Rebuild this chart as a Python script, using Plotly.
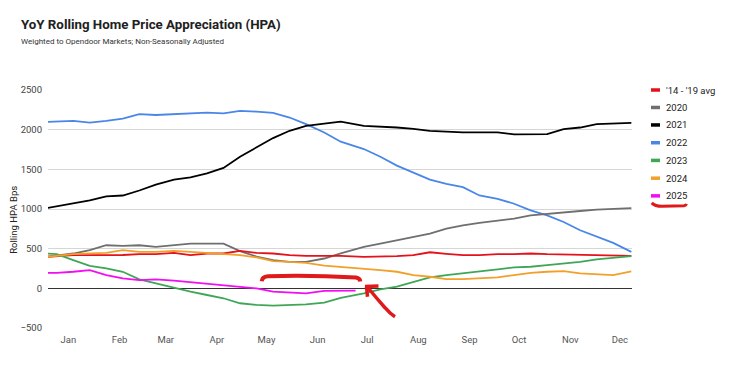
import plotly.graph_objects as go

# ---------------- data (day-of-year sampling, values in bps) ----------------
days = [2, 8, 18, 28, 38, 48, 58, 68, 79, 89, 99, 109, 119, 129, 139, 149, 159, 170, 180,
        194, 204, 214, 224, 234, 244, 254, 264, 275, 285, 295, 305, 315, 325, 335, 345, 356]

avg_14_19 = [397, 405, 418, 418, 418, 420, 430, 430, 447, 418, 439, 439, 472, 447, 439, 418, 410, 410, 410,
             397, 400, 405, 418, 455, 435, 418, 418, 430, 430, 439, 430, 425, 425, 418, 415, 410]
hpa_2020 = [397, 410, 439, 481, 543, 535, 543, 522, 543, 564, 564, 564, 470, 400, 355, 334, 334, 376, 440,
            522, 564, 606, 640, 690, 752, 794, 825, 857, 878, 920, 940, 961, 975, 991, 1003, 1012]
hpa_2021 = [1012, 1035, 1066, 1108, 1158, 1170, 1233, 1308, 1371, 1400, 1450, 1517, 1659, 1777, 1894, 1986, 2048, 2077, 2100,
            2048, 2040, 2027, 2010, 1986, 1975, 1965, 1965, 1965, 1940, 1944, 1944, 2006, 2027, 2069, 2075, 2086]
hpa_2022 = [2098, 2105, 2110, 2090, 2110, 2140, 2195, 2185, 2195, 2200, 2215, 2205, 2236, 2228, 2211, 2153, 2069, 1965, 1848,
            1756, 1659, 1547, 1463, 1371, 1317, 1275, 1170, 1129, 1066, 982, 920, 836, 732, 656, 573, 460]
hpa_2023 = [439, 430, 355, 284, 251, 209, 113, 63, 0, -42, -84, -125, -188, -209, -217, -209, -201, -180, -120,
            -63, -13, 21, 84, 138, 167, 188, 209, 238, 263, 272, 293, 313, 334, 364, 385, 405]
hpa_2024 = [397, 410, 430, 440, 447, 481, 460, 460, 472, 460, 447, 439, 418, 389, 343, 334, 322, 285, 270,
            251, 230, 209, 167, 146, 117, 117, 125, 138, 167, 196, 209, 217, 188, 180, 167, 215]

days_2025 = [2, 8, 18, 28, 38, 48, 58, 68, 79, 89, 99, 109, 119, 129, 139, 149, 159, 170, 180, 189]
hpa_2025 = [196, 196, 209, 230, 167, 125, 104, 113, 96, 75, 63, 42, 13, 0, -42, -54, -63, -33, -29, -29]

month_labels = ["Jan", "Feb", "Mar", "Apr", "May", "Jun", "Jul", "Aug", "Sep", "Oct", "Nov", "Dec"]
month_mid_days = [15, 46, 74, 105, 135, 166, 196, 227, 258, 288, 319, 349]
y_ticks = [-500, 0, 500, 1000, 1500, 2000, 2500]

series_names = ["'14 - '19 avg", "2020", "2021", "2022", "2023", "2024", "2025"]
series_x = [days, days, days, days, days, days, days_2025]
series_y = [avg_14_19, hpa_2020, hpa_2021, hpa_2022, hpa_2023, hpa_2024, hpa_2025]
colors = ["#e3121b", "#6f6f6f", "#000000", "#4a86e8", "#3fa657", "#f2a02a", "#f20df2"]

# ---------------- layout geometry ----------------
# The page body has an 8px margin, so the figure is sized to fit inside the window
# and page coordinates are converted to figure coordinates by subtracting OFF.
OFF = 8
W, H = 740 - OFF, 386 - OFF
L = 48 - OFF
T = 90 - OFF
R = W - (632 - OFF)
B = H - (328.3 - OFF)
PW, PH = W - L - R, H - T - B


def px(x, y):
    """page pixel -> paper coords"""
    fx, fy = x - OFF, y - OFF
    return (fx - L) / PW, (H - B - fy) / PH


def path(cmds):
    out = []
    for c in cmds:
        if isinstance(c, str):
            out.append(c)
        else:
            a, b = px(*c)
            out.append(f"{a:.5f},{b:.5f}")
    return " ".join(out)


fig = go.Figure()
draw_order = [3, 2, 1, 0, 4, 5, 6]
for i in draw_order:
    fig.add_trace(go.Scatter(x=series_x[i], y=series_y[i], mode="lines", name=series_names[i],
                             line=dict(color=colors[i], width=1.8), showlegend=False))

annotations = []
shapes = []

# title + subtitle
tx, ty = px(19, 24)
annotations.append(dict(xref="paper", yref="paper", x=tx, y=ty, xanchor="left", yanchor="middle",
                        text="<b>YoY Rolling Home Price Appreciation (HPA)</b>", showarrow=False,
                        font=dict(size=13.3, color="#212121", family="Roboto")))
sx, sy = px(19, 41)
annotations.append(dict(xref="paper", yref="paper", x=sx, y=sy, xanchor="left", yanchor="middle",
                        text="Weighted to Opendoor Markets; Non-Seasonally Adjusted", showarrow=False,
                        font=dict(size=8, color="#333333", family="Roboto")))
# y axis title
ax_, ay_ = px(OFF + 6, 220)
annotations.append(dict(xref="paper", yref="paper", x=ax_, y=ay_, xanchor="center", yanchor="middle",
                        text="Rolling HPA Bps", textangle=-90, showarrow=False,
                        font=dict(size=9.5, color="#222222", family="Roboto")))

# legend (manual)
legend_y = [90, 107.5, 125, 142.8, 160.5, 178.3, 196]
for name, col, ly in zip(series_names, colors, legend_y):
    x0, y0 = px(651, ly)
    x1, _ = px(660, ly)
    shapes.append(dict(type="line", xref="paper", yref="paper", x0=x0, x1=x1, y0=y0, y1=y0,
                       line=dict(color=col, width=3.5)))
    lx, _ = px(664, ly)
    annotations.append(dict(xref="paper", yref="paper", x=lx, y=y0, xanchor="left", yanchor="middle",
                            text=name, showarrow=False,
                            font=dict(size=9.5, color="#222222", family="Roboto")))

# hand-drawn red marks
red = "#e0191b"
shapes.append(dict(type="path", xref="paper", yref="paper",
                   path=path(["M", (261.7, 281.5), "Q", (262, 277), (268, 276.5),
                              "Q", (310, 275.2), (356, 277.8), "Q", (360, 278.5), (360.3, 281.7)]),
                   line=dict(color=red, width=4)))
shapes.append(dict(type="path", xref="paper", yref="paper",
                   path=path(["M", (368, 288), "Q", (377, 299), (385, 308), "Q", (390, 314), (395, 317)]),
                   line=dict(color=red, width=3.5)))
shapes.append(dict(type="path", xref="paper", yref="paper",
                   path=path(["M", (365, 286.7), "L", (378.5, 286.3), "M", (366.5, 286.7), "L", (367.5, 297)]),
                   line=dict(color=red, width=3.5)))
shapes.append(dict(type="path", xref="paper", yref="paper",
                   path=path(["M", (651.7, 203), "Q", (655, 206.5), (662, 206.5),
                              "L", (684, 205.8), "Q", (686, 205.5), (686.5, 204)]),
                   line=dict(color=red, width=3)))

fig.update_layout(
    width=W, height=H,
    margin=dict(l=L, r=R, t=T, b=B),
    paper_bgcolor="white", plot_bgcolor="white",
    font=dict(family="Roboto", size=10, color="#444444"),
    showlegend=False,
    annotations=annotations,
    shapes=shapes,
    xaxis=dict(range=[2.7, 356.4], tickmode="array", tickvals=month_mid_days, ticktext=month_labels,
               showgrid=False, zeroline=False, showline=False, ticks="",
               tickfont=dict(size=9.5, color="#555555"), ticklabelstandoff=4, fixedrange=True),
    yaxis=dict(range=[-500, 2500], tickmode="array", tickvals=y_ticks,
               showgrid=True, gridcolor="#d6d6d6", gridwidth=1,
               zeroline=True, zerolinecolor="#333333", zerolinewidth=1,
               showline=False, ticks="", tickfont=dict(size=9.5, color="#444444"),
               ticklabelstandoff=5, fixedrange=True),
)

fig.write_html("out.html")
